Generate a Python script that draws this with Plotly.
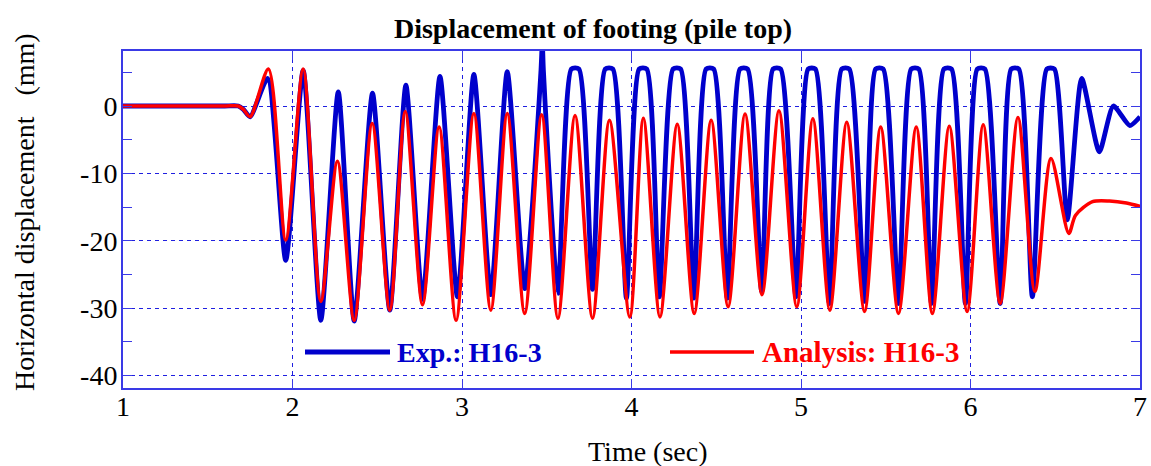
import plotly.graph_objects as go

# ---------------- data ----------------
exp_t = [1.00, 1.30, 1.60, 1.68, 1.71, 1.75, 1.853, 1.96, 2.063, 2.167, 2.27, 2.364, 2.472, 2.574, 2.669,
         2.767, 2.87, 2.973, 3.07, 3.17, 3.267, 3.37, 3.466, 3.474, 3.480, 3.566,
         3.645, 3.69, 3.77, 3.845, 3.89, 3.97, 4.045, 4.09, 4.164, 4.245, 4.29, 4.368,
         4.44, 4.485, 4.565, 4.64, 4.685, 4.768, 4.835, 4.88, 4.97, 5.042, 5.085,
         5.168, 5.24, 5.285, 5.375, 5.44, 5.485, 5.575, 5.65, 5.695, 5.77, 5.843, 5.888,
         5.97, 6.04, 6.085, 6.175, 6.24, 6.285, 6.365, 6.45, 6.495, 6.571, 6.656,
         6.76, 6.843, 6.94, 7.00]
exp_v = [0.0, 0.0, 0.0, 0.0, -0.5, -1.6, 4.1, -22.9, 5.3, -31.8, 2.1, -31.9, 1.9, -30.3, 3.1,
         -28.7, 4.4, -28.3, 4.7, -28.0, 5.1, -27.1, 5.3, 9.5, 5.4, -27.8,
         5.5, 5.5, -27.2, 5.5, 5.5, -28.5, 5.5, 5.5, -28.3, 5.5, 5.5, -28.5,
         5.5, 5.5, -28.5, 5.5, 5.5, -27.5, 5.5, 5.5, -28.3, 5.5, 5.5,
         -29.3, 5.5, 5.5, -29.0, 5.5, 5.5, -29.3, 5.5, 5.5, -29.3, 5.5, 5.5,
         -29.3, 5.5, 5.5, -29.3, 5.5, 5.5, -28.3, 5.5, 5.5, -16.9, 4.1,
         -6.8, 0.0, -2.9, -1.6]

ana_t = [1.00, 1.30, 1.60, 1.68, 1.71, 1.75, 1.858, 1.96, 2.063, 2.167, 2.265, 2.364, 2.47, 2.574, 2.665,
         2.767, 2.865, 2.965, 3.07, 3.17, 3.267, 3.37, 3.47, 3.566, 3.667, 3.77, 3.87,
         3.99, 4.07, 4.168, 4.27, 4.37, 4.47, 4.57, 4.67, 4.77, 4.87, 4.975, 5.07,
         5.17, 5.27, 5.375, 5.47, 5.575, 5.68, 5.775, 5.875, 5.98, 6.075, 6.175, 6.28,
         6.38, 6.475, 6.58, 6.62, 6.72, 6.82, 6.92, 7.00]
ana_v = [0.0, 0.0, 0.0, 0.0, -0.5, -1.6, 5.5, -19.9, 5.5, -29.0, -8.2, -31.8, -2.6, -30.3, -0.8,
         -29.5, -3.1, -31.8, -1.1, -30.3, -1.1, -30.8, -1.3, -31.5, -1.4, -31.5, -2.1,
         -31.3, -1.8, -31.3, -2.7, -30.8, -2.1, -29.8, -1.2, -28.0, -0.7, -29.8, -1.9,
         -30.3, -2.4, -30.5, -3.1, -30.8, -3.1, -30.8, -3.0, -30.5, -2.8, -29.3, -1.7,
         -27.5, -7.8, -18.9, -16.2, -14.2, -14.1, -14.4, -14.9]

x_ticks = [1, 2, 3, 4, 5, 6, 7]
y_ticks = [-40, -30, -20, -10, 0]
exp_name = "Exp.: H16-3"
ana_name = "Analysis: H16-3"
title_text = "Displacement of footing (pile top)"
x_title = "Time (sec)"
y_title = "Horizontal displacement   (mm)"

BLUE = "#0000cc"
RED = "#ff0000"
AXIS = "#3a3ae6"
GRID = "#1f1fe0"
FONT = "Liberation Serif, Times New Roman, serif"

fig = go.Figure()
fig.add_trace(go.Scatter(x=exp_t, y=exp_v, mode="lines", name=exp_name,
                         line=dict(color=BLUE, width=4.8, shape="spline", smoothing=0.6),
                         showlegend=False))
fig.add_trace(go.Scatter(x=ana_t, y=ana_v, mode="lines", name=ana_name,
                         line=dict(color=RED, width=3.5, shape="spline", smoothing=0.8),
                         showlegend=False))

L, R, T, B = 123, 11, 51, 78
W, H = 1151, 466
pw = W - L - R
ph = H - T - B


def px(xp):
    return (xp - L) / pw


def py(yp):
    return (H - B - yp) / ph


axis_common = dict(
    showline=True, linecolor=AXIS, linewidth=2, mirror="ticks",
    ticks="inside", ticklen=9, tickwidth=1.2, tickcolor=AXIS,
    showgrid=True, gridcolor=GRID, gridwidth=1, griddash="4px,4px",
    zeroline=False, automargin=False,
    tickfont=dict(family=FONT, size=28, color="black"),
)

fig.update_xaxes(range=[1, 7], tickvals=x_ticks, ticktext=[str(v) for v in x_ticks],
                 ticklabelstandoff=-8, **axis_common)
fig.update_yaxes(range=[-41.84, 8.16], tickvals=y_ticks, ticktext=[str(v) for v in y_ticks],
                 minor=dict(dtick=5, ticks="inside", ticklen=9, tickcolor=AXIS, showgrid=False),
                 ticklabelstandoff=-2, **axis_common)

# legend drawn inside the plot (long line keys, like the reference)
shapes = [
    dict(type="line", xref="paper", yref="paper", x0=px(305), x1=px(390), y0=py(352), y1=py(352),
         line=dict(color=BLUE, width=4.8)),
    dict(type="line", xref="paper", yref="paper", x0=px(670), x1=px(754), y0=py(352), y1=py(352),
         line=dict(color=RED, width=3.5)),
]
annotations = [
    dict(text=exp_name, xref="paper", yref="paper", x=px(395), y=py(352), xanchor="left",
         yanchor="middle", showarrow=False,
         font=dict(family=FONT, size=28, color=BLUE, weight="bold")),
    dict(text=ana_name, xref="paper", yref="paper", x=px(760), y=py(352), xanchor="left",
         yanchor="middle", showarrow=False,
         font=dict(family=FONT, size=29, color=RED, weight="bold")),
    dict(text=x_title, xref="paper", yref="paper", x=px(648), y=py(452), xanchor="center",
         yanchor="middle", showarrow=False, font=dict(family=FONT, size=28, color="black")),
    dict(text=y_title, xref="paper", yref="paper", x=px(25), y=py(212), xanchor="center",
         yanchor="middle", showarrow=False, textangle=-90,
         font=dict(family=FONT, size=28, color="black")),
]

fig.update_layout(
    width=W, height=H,
    margin=dict(l=L, r=R, t=T, b=B),
    paper_bgcolor="white", plot_bgcolor="white",
    title=dict(text="<b>" + title_text + "</b>", xref="container", yref="container",
               x=593 / W, y=1 - 28 / H, xanchor="center", yanchor="middle",
               font=dict(family=FONT, size=28, color="black")),
    shapes=shapes, annotations=annotations,
)

fig.write_html("out.html")
